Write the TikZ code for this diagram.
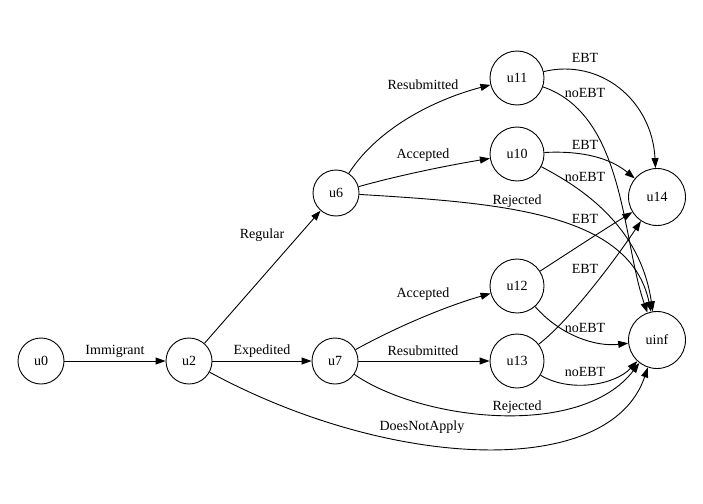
\documentclass[tikz,border=0pt]{standalone}
\usepackage{fontspec}
\setmainfont{Liberation Serif}
\usetikzlibrary{arrows.meta}
\begin{document}
\begin{tikzpicture}[x=1pt,y=-1pt,
  every node/.style={font=\fontsize{14}{16}\selectfont},
  st/.style={draw,circle,line width=0.9pt,inner sep=0pt,minimum size=46pt},
  stm/.style={st,minimum size=54pt},
  stl/.style={st,minimum size=57pt},
  edge/.style={draw,line width=0.9pt,-{Triangle[length=10pt,width=7pt]}},
  lbl/.style={inner sep=1pt}]
\useasboundingbox (0,0) rectangle (703,503);
\node[st]  (u0)   at (41,361)  {u0};
\node[st]  (u2)   at (189,361) {u2};
\node[st]  (u7)   at (335,361) {u7};
\node[st]  (u6)   at (336,193) {u6};
\node[stm] (u11)  at (517,78)  {u11};
\node[stm] (u10)  at (517,154) {u10};
\node[stm] (u12)  at (517,286) {u12};
\node[stm] (u13)  at (517,361) {u13};
\node[stl] (u14)  at (657,197) {u14};
\node[stl] (uinf) at (657,340) {uinf};

\path[edge] (u0) -- (u2) node[lbl] at (115,351) {Immigrant};
\path[edge] (u2) -- (u7) node[lbl] at (262,351) {Expedited};
\path[edge] (u2) -- (u6) node[lbl] at (262,235) {Regular};
\path[edge] (u2) .. controls (390,470) and (610,480) .. (uinf) node[lbl] at (422,427) {DoesNotApply};

\path[edge] (u6) .. controls (380,125) and (440,98) .. (u11) node[lbl] at (423,85) {Resubmitted};
\path[edge] (u6) .. controls (400,175) and (450,165) .. (u10) node[lbl] at (423,155) {Accepted};
\path[edge] (u6) .. controls (500,203) and (630,212) .. (uinf) node[lbl] at (517,201) {Rejected};

\path[edge] (u7) .. controls (400,325) and (450,305) .. (u12) node[lbl] at (423,294) {Accepted};
\path[edge] (u7) -- (u13) node[lbl] at (423,351) {Resubmitted};
\path[edge] (u7) .. controls (420,420) and (580,440) .. (uinf) node[lbl] at (517,407) {Rejected};

\path[edge] (u11) .. controls (600,58) and (652,100) .. (u14) node[lbl] at (585,58) {EBT};
\path[edge] (u11) .. controls (625,115) and (622,240) .. (uinf) node[lbl] at (585,93) {noEBT};
\path[edge] (u10) .. controls (590,150) and (615,162) .. (u14) node[lbl] at (585,145) {EBT};
\path[edge] (u10) .. controls (580,187) and (640,225) .. (uinf) node[lbl] at (585,177) {noEBT};
\path[edge] (u12) .. controls (565,255) and (600,232) .. (u14) node[lbl] at (585,219) {EBT};
\path[edge] (u12) .. controls (560,335) and (595,347) .. (uinf) node[lbl] at (585,328) {noEBT};
\path[edge] (u13) .. controls (570,320) and (615,260) .. (u14) node[lbl] at (585,269) {EBT};
\path[edge] (u13) .. controls (570,393) and (615,385) .. (uinf) node[lbl] at (585,372) {noEBT};
\end{tikzpicture}
\end{document}
